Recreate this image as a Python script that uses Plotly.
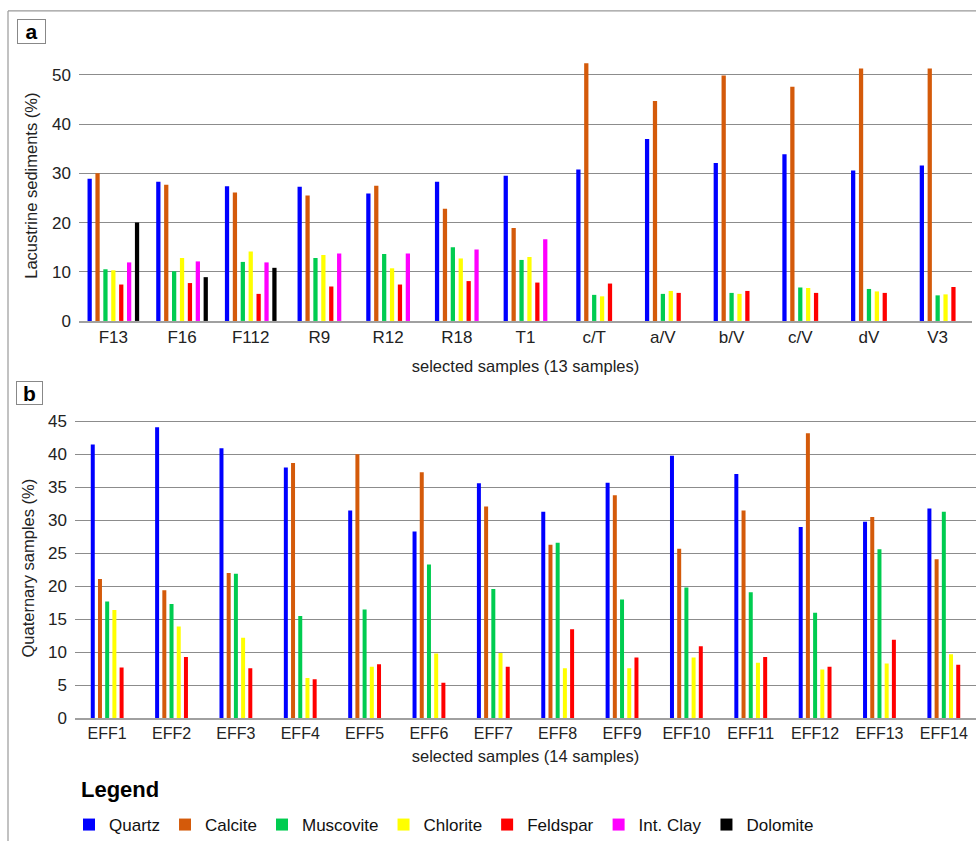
import plotly.graph_objects as go

FONT = "Liberation Sans, Arial, sans-serif"

minerals = ["Quartz", "Calcite", "Muscovite", "Chlorite", "Feldspar", "Int. Clay", "Dolomite"]
colors = ["#0000FF", "#D45A0A", "#00CC50", "#FFFF00", "#FF0000", "#FF00FF", "#000000"]

# Panel a: lacustrine sediments (13 samples)
samples_a = ["F13", "F16", "F112", "R9", "R12", "R18", "T1", "c/T", "a/V", "b/V", "c/V", "dV", "V3"]
quartz_a = [28.9, 28.3, 27.4, 27.3, 25.9, 28.3, 29.5, 30.8, 37.0, 32.1, 33.9, 30.6, 31.6]
calcite_a = [30.0, 27.7, 26.1, 25.5, 27.5, 22.8, 18.9, 52.4, 44.7, 49.9, 47.6, 51.3, 51.3]
muscovite_a = [10.5, 10.1, 12.0, 12.8, 13.6, 15.0, 12.4, 5.3, 5.5, 5.7, 6.8, 6.5, 5.2]
chlorite_a = [10.3, 12.8, 14.1, 13.4, 10.7, 12.7, 13.0, 5.0, 6.1, 5.5, 6.7, 6.0, 5.4]
feldspar_a = [7.4, 7.7, 5.5, 7.0, 7.4, 8.1, 7.8, 7.6, 5.7, 6.1, 5.7, 5.7, 6.9]
intclay_a = [11.9, 12.1, 11.9, 13.7, 13.7, 14.5, 16.6, None, None, None, None, None, None]
dolomite_a = [20.0, 8.9, 10.8, None, None, None, None, None, None, None, None, None, None]

# Panel b: Quaternary samples (14 samples)
samples_b = ["EFF1", "EFF2", "EFF3", "EFF4", "EFF5", "EFF6", "EFF7", "EFF8", "EFF9", "EFF10",
             "EFF11", "EFF12", "EFF13", "EFF14"]
quartz_b = [41.5, 44.1, 40.9, 38.0, 31.5, 28.3, 35.6, 31.3, 35.7, 39.8, 37.0, 29.0, 29.8, 31.8]
calcite_b = [21.1, 19.4, 22.0, 38.7, 40.0, 37.3, 32.1, 26.3, 33.8, 25.7, 31.5, 43.2, 30.5, 24.1]
muscovite_b = [17.7, 17.3, 21.9, 15.5, 16.5, 23.3, 19.6, 26.6, 18.0, 19.8, 19.1, 16.0, 25.6, 31.3]
chlorite_b = [16.4, 13.9, 12.2, 6.1, 7.8, 9.8, 9.9, 7.6, 7.6, 9.2, 8.4, 7.4, 8.3, 9.7]
feldspar_b = [7.7, 9.3, 7.6, 5.9, 8.2, 5.4, 7.8, 13.5, 9.2, 10.9, 9.3, 7.8, 11.9, 8.1]

series_a = [quartz_a, calcite_a, muscovite_a, chlorite_a, feldspar_a, intclay_a, dolomite_a]
series_b = [quartz_b, calcite_b, muscovite_b, chlorite_b, feldspar_b]

W = 976
H = 843


def offsets(series, j, slot, width):
    """Centre the bars that are present in each category."""
    out = []
    for i in range(len(series[0])):
        present = [k for k in range(len(series)) if series[k][i] is not None]
        if j in present:
            n = len(present)
            idx = present.index(j)
            out.append((idx - (n - 1) / 2) * slot - width / 2)
        else:
            out.append(0)
    return out


fig = go.Figure()

BW_A, SLOT_A = 0.062, 0.115
for j, (name, vals) in enumerate(zip(minerals, series_a)):
    fig.add_trace(go.Bar(
        x=samples_a, y=vals, name=name, marker=dict(color=colors[j], line=dict(width=0)),
        width=BW_A, offset=offsets(series_a, j, SLOT_A, BW_A),
        xaxis="x", yaxis="y", legendgroup=name, showlegend=True,
    ))

BW_B, SLOT_B = 0.062, 0.112
for j, vals in enumerate(series_b):
    fig.add_trace(go.Bar(
        x=samples_b, y=vals, name=minerals[j], marker=dict(color=colors[j], line=dict(width=0)),
        width=BW_B, offset=offsets(series_b, j, SLOT_B, BW_B),
        xaxis="x2", yaxis="y2", legendgroup=minerals[j], showlegend=False,
    ))


def py(pix):
    return (H - pix) / H


def px(pix):
    return pix / W


grid = "#8c8c8c"
axis_common = dict(showgrid=False, showline=True, linecolor="#a0a0a0", linewidth=2,
                   ticks="", automargin=False, fixedrange=True)
yaxis_common = dict(showgrid=True, gridcolor=grid, gridwidth=1.2, zeroline=False,
                    showline=False, ticks="", automargin=False, ticklabelstandoff=7,
                    tickfont=dict(size=17, color="#222"), fixedrange=True)

fig.update_layout(
    width=W, height=H,
    margin=dict(l=0, r=0, t=0, b=0),
    paper_bgcolor="white", plot_bgcolor="white",
    font=dict(family=FONT, color="#222"),
    barmode="overlay",
    xaxis=dict(domain=[px(79), px(972)], anchor="y", range=[-0.5, 12.5],
               tickfont=dict(size=17, color="#222"),
               title=dict(text="selected samples (13 samples)", font=dict(size=16.5), standoff=14),
               **axis_common),
    yaxis=dict(domain=[py(321.7), py(50.5)], anchor="x", range=[0, 55], dtick=10,
               title=dict(text="Lacustrine sediments (%)", font=dict(size=16.5), standoff=10),
               **yaxis_common),
    xaxis2=dict(domain=[px(75), px(976)], anchor="y2", range=[-0.5, 13.5],
                tickfont=dict(size=16, color="#222"),
                title=dict(text="selected samples (14 samples)", font=dict(size=16.5), standoff=9),
                **axis_common),
    yaxis2=dict(domain=[py(720), py(419)], anchor="x2", range=[0, 45.5], dtick=5,
                title=dict(text="Quaternary samples (%)", font=dict(size=16.5), standoff=9),
                **yaxis_common),
    legend=dict(orientation="h", x=px(69), y=py(827), xanchor="left", yanchor="middle",
                font=dict(size=17, color="#111"),
                itemclick=False, itemdoubleclick=False, tracegroupgap=0),
    shapes=[
        dict(type="line", xref="paper", yref="paper", x0=px(8), x1=1.0, y0=py(11), y1=py(11),
             line=dict(color="#999", width=1.2)),
        dict(type="line", xref="paper", yref="paper", x0=px(8), x1=px(8), y0=0, y1=py(11),
             line=dict(color="#999", width=1.2)),
    ],
    annotations=[
        dict(text="<b>a</b>", xref="paper", yref="paper", x=px(31), y=py(31.5),
             xanchor="center", yanchor="middle", showarrow=False, font=dict(size=21, color="#000"),
             bordercolor="#888", borderwidth=1, borderpad=0, bgcolor="white", width=27, height=23),
        dict(text="<b>b</b>", xref="paper", yref="paper", x=px(29), y=py(394),
             xanchor="center", yanchor="middle", showarrow=False, font=dict(size=21, color="#000"),
             bordercolor="#888", borderwidth=1, borderpad=0, bgcolor="white", width=25, height=22),
        dict(text="<b>Legend</b>", xref="paper", yref="paper", x=px(79), y=py(791),
             xanchor="left", yanchor="middle", showarrow=False, font=dict(size=22, color="#000")),
    ],
)

fig.write_html(
    "out.html",
    config={"displayModeBar": False},
    post_script="document.body.style.margin='0';document.body.style.overflow='hidden';",
)
